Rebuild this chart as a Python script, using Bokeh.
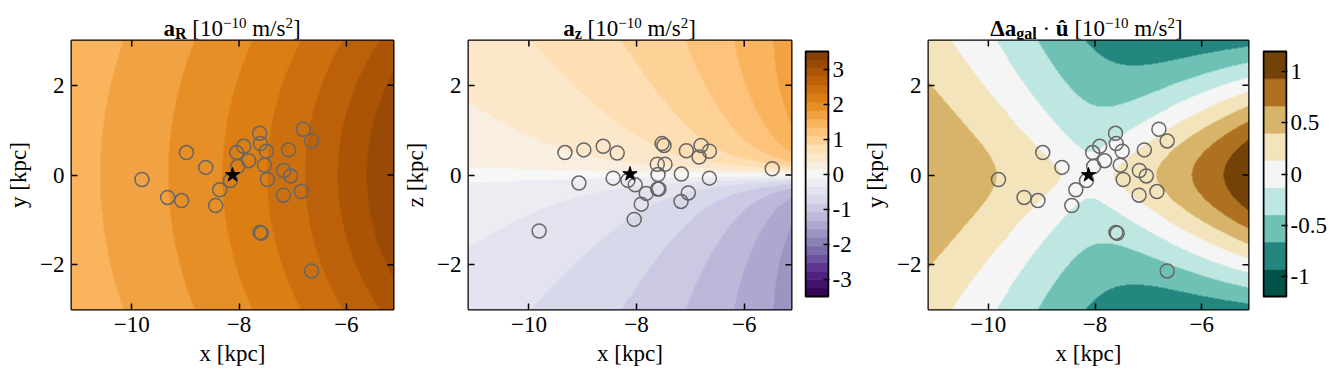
import numpy as np
from bokeh.plotting import figure
from bokeh.models import LinearColorMapper, FixedTicker, Range1d, Div
from bokeh.layouts import row, column
from bokeh.embed import file_html
from bokeh.resources import INLINE

# ---------------- values ----------------
# sources, Galactocentric coordinates [kpc] (the last one lies outside the y window)
src_x = [-9.81, -9.33, -9.07, -8.98, -8.62, -8.435, -8.36, -8.16, -8.025, -8.044, -7.913, -7.82,
         -7.615, -7.602, -7.527, -7.490, -7.472, -7.608, -7.584, -7.168, -7.174, -7.075, -7.038,
         -6.839, -6.802, -6.647, -6.647, -5.48]
src_y = [-0.10, -0.50, -0.57, 0.50, 0.17, -0.68, -0.33, -0.125, 0.19, 0.50, 0.64, 0.32,
         0.93, 0.70, 0.22, 0.53, -0.10, -1.28, -1.30, 0.10, -0.45, 0.56, -0.02,
         -0.37, 1.02, 0.76, -2.14, np.nan]
src_z = [-1.25, 0.50, -0.18, 0.56, 0.64, -0.07, 0.49, -0.12, -0.22, -0.99, -0.65, -0.41,
         0.24, 0.01, 0.70, 0.66, 0.24, -0.31, -0.31, 0.02, -0.59, 0.54, -0.40,
         0.40, 0.66, 0.53, -0.07, 0.14]
sun_x, sun_y, sun_z = -8.122, 0.0, 0.0208

x_window = [-11.122, -5.122]
y_window = [-3.0, 3.0]
x_ticks = [-10, -8, -6]
y_ticks = [-2, 0, 2]

levels_acc = np.linspace(-3.5, 3.5, 30)     # a_R and a_z colour levels
levels_diff = np.linspace(-1.2, 1.2, 10)    # Delta a . u colour levels
cbar_ticks_acc = [-3, -2, -1, 0, 1, 2, 3]
cbar_labels_acc = ["-3", "-2", "-1", "0", "1", "2", "3"]
cbar_ticks_diff = [-1, -0.5, 0, 0.5, 1]
cbar_labels_diff = ["-1", "-0.5", "0", "0.5", "1"]

# Galactic potential model (bulge + disc + halo), parameters tuned to the picture
G = 4.30091e-6                         # kpc (km/s)^2 / Msun
M_bulge, a_bulge = 0.5e10, 0.5
M_disk, a_disk, b_disk = 6.8e10, 3.0, 0.28
v_halo, r_core = 183.2, 6.04
UNIT = 1e6 / 3.0857e19 / 1e-10         # (km/s)^2/kpc -> 1e-10 m/s^2

PUOR = ['#7f3b08', '#b35806', '#e08214', '#fdb863', '#fee0b6', '#f7f7f7',
        '#d8daeb', '#b2abd2', '#8073ac', '#542788', '#2d004b']
BRBG = ['#543005', '#8c510a', '#bf812d', '#dfc27d', '#f6e8c3', '#f5f5f5',
        '#c7eae5', '#80cdc1', '#35978f', '#01665e', '#003c30']

SERIF = "Liberation Serif"
FS = "23px"


def hex2rgb(h):
    return np.array([int(h[i:i + 2], 16) for i in (1, 3, 5)], float)


def band_palette(anchors, n):
    """reversed colormap sampled at the band mid points (low -> high)."""
    rgb = np.array([hex2rgb(c) for c in anchors])
    out = []
    for k in range(n):
        t = 1.0 - (k + 0.5) / n
        pos = t * (len(anchors) - 1)
        i = min(int(np.floor(pos)), len(anchors) - 2)
        f = pos - i
        c = rgb[i] * (1 - f) + rgb[i + 1] * f
        out.append('#%02x%02x%02x' % tuple(int(round(v)) for v in c))
    return out


pal_acc = band_palette(PUOR, len(levels_acc) - 1)
pal_diff = band_palette(BRBG, len(levels_diff) - 1)


def accel(x, y, z):
    r2 = x * x + y * y + z * z
    r = np.sqrt(r2)
    fb = -G * M_bulge / (r * (r + a_bulge) ** 2)
    zeta = np.sqrt(z * z + b_disk ** 2)
    fd = -G * M_disk / (x * x + y * y + (a_disk + zeta) ** 2) ** 1.5
    fh = -v_halo ** 2 / (r2 + r_core ** 2)
    ax = (fb + fd + fh) * x
    ay = (fb + fd + fh) * y
    az = (fb + fh) * z + fd * z * (a_disk + zeta) / zeta
    return ax * UNIT, ay * UNIT, az * UNIT


NX, NY = 322, 269
gx = x_window[0] + (np.arange(NX) + 0.5) * (x_window[1] - x_window[0]) / NX
gy = y_window[0] + (np.arange(NY) + 0.5) * (y_window[1] - y_window[0]) / NY
GX, GY = np.meshgrid(gx, gy)
ZERO = np.zeros_like(GX)

ax1, ay1, _ = accel(GX, GY, ZERO)
RR = np.hypot(GX, GY)
field_aR = -(ax1 * GX + ay1 * GY) / RR

_, _, az2 = accel(GX, ZERO, GY)
field_az = -az2

sax, say, _ = accel(np.array(sun_x), np.array(sun_y), np.array(0.0))
dX, dY = GX - sun_x, GY - sun_y
dist = np.hypot(dX, dY)
field_du = ((ax1 - sax) * dX + (ay1 - say) * dY) / dist

# ---------------- drawing ----------------
TITLE_H = 39
FRAME_H = 269
B_TOP, B_BOT = 1, 68
MAIN_H = B_TOP + FRAME_H + B_BOT


def sub(t):
    return ('<span style="font-weight:bold;font-size:16px;vertical-align:-3px;'
            'line-height:0">%s</span>' % t)


def sup(t):
    return '<span style="font-size:15px;vertical-align:8px;line-height:0">%s</span>' % t


UNITS = " [10" + sup("\u221210") + " m/s" + sup("2") + "]"


def title_div(width, center, html):
    # a box of twice the distance to the panel centre, so that centred text sits over the panel
    inner = ('<div style="display:block;margin:0;padding:17px 0 0 0;width:%dpx;'
             'box-sizing:border-box;text-align:center;white-space:nowrap;'
             'font-family:\'%s\';font-size:23px;line-height:23px;color:#000000;">%s</div>'
             % (int(round(2 * center)), SERIF, html))
    return Div(text=inner, width=width, height=TITLE_H, margin=0)


def fmt_minus(t):
    return ("%g" % t).replace("-", "\u2212")


def style_axis(a, ticks):
    a.ticker = FixedTicker(ticks=ticks)
    a.major_tick_in = 6
    a.major_tick_out = 0
    a.major_tick_line_width = 1.5
    a.major_tick_line_color = "black"
    a.minor_tick_line_color = None
    a.axis_line_color = None
    a.major_label_overrides = {t: fmt_minus(t) for t in ticks}
    a.major_label_text_font = SERIF
    a.major_label_text_font_size = FS
    a.major_label_text_color = "black"
    a.major_label_standoff = 7
    a.axis_label_text_font = SERIF
    a.axis_label_text_font_size = FS
    a.axis_label_text_font_style = "normal"
    a.axis_label_text_color = "black"
    a.axis_label_standoff = 6


def make_panel(width, left, right, field, palette, levels, ylab, vy, sy):
    p = figure(width=width, height=MAIN_H, x_range=Range1d(*x_window), y_range=Range1d(*y_window),
               output_backend="svg", toolbar_location=None,
               min_border_left=left, min_border_right=right, min_border_top=B_TOP,
               min_border_bottom=B_BOT)
    mapper = LinearColorMapper(palette=palette, low=levels[0], high=levels[-1])
    p.image(image=[field.astype(np.float32)], x=x_window[0], y=y_window[0],
            dw=x_window[1] - x_window[0], dh=y_window[1] - y_window[0], color_mapper=mapper)
    p.scatter(np.array(src_x), np.array(vy), marker="circle", size=14, fill_color=None,
              line_color="#666666", line_width=1.5)
    p.scatter([sun_x], [sy], marker="star", size=15, fill_color="black", line_color="black")
    # inward ticks on the top and right frame edges (half of each dash is clipped by the frame)
    p.scatter(x_ticks, [y_window[1]] * len(x_ticks), marker="dash", angle=np.pi / 2, size=12,
              line_color="black", line_width=1.5)
    p.scatter([x_window[1]] * len(y_ticks), y_ticks, marker="dash", size=12,
              line_color="black", line_width=1.5)
    p.grid.visible = False
    p.xaxis.axis_label = "x [kpc]"
    p.yaxis.axis_label = ylab
    style_axis(p.xaxis[0], x_ticks)
    style_axis(p.yaxis[0], y_ticks)
    p.outline_line_color = "black"
    p.outline_line_width = 2
    p.outline_line_alpha = 1
    return p


def make_cbar(width, left, right, levels, palette, ticks, labels):
    # the bar is 245 px tall, 11 px below the frame top and 13 px above the frame bottom
    span = levels[-1] - levels[0]
    per_px = span / 245.0
    yr = Range1d(levels[0] - 13 * per_px, levels[-1] + 11 * per_px)
    xr = Range1d(-1 / 23.0, 1 + 1 / 23.0)
    p = figure(width=width, height=MAIN_H, x_range=xr, y_range=yr,
               output_backend="svg", toolbar_location=None, x_axis_location=None,
               y_axis_location="right",
               min_border_left=left, min_border_right=right, min_border_top=B_TOP,
               min_border_bottom=B_BOT)
    p.quad(left=0, right=1, bottom=levels[:-1], top=levels[1:], fill_color=palette,
           line_color=palette, line_width=0.6)
    p.quad(left=[0], right=[1], bottom=[levels[0]], top=[levels[-1]], fill_color=None,
           line_color="black", line_width=2)
    p.grid.visible = False
    a = p.yaxis[0]
    a.ticker = FixedTicker(ticks=ticks)
    a.major_label_overrides = dict(zip(ticks, labels))
    a.major_tick_in = 6
    a.major_tick_out = 0
    a.major_tick_line_width = 1.5
    a.major_tick_line_color = "black"
    a.minor_tick_line_color = None
    a.axis_line_color = None
    a.major_label_text_font = SERIF
    a.major_label_text_font_size = FS
    a.major_label_text_color = "black"
    a.major_label_standoff = 3
    p.outline_line_color = None
    return p


# page x-layout: panel frames at 71-393, 468-791, 925-1248; colour bars at 805-828, 1263-1286
f1 = make_panel(400, 71, 7, field_aR, pal_acc, levels_acc, "y [kpc]", src_y, sun_y)
f2 = make_panel(400, 68, 9, field_az, pal_acc, levels_acc, "z [kpc]", src_z, sun_z)
c2 = make_cbar(60, 4, 31, levels_acc, pal_acc, cbar_ticks_acc, cbar_labels_acc)
f3 = make_panel(395, 65, 7, field_du, pal_diff, levels_diff, "y [kpc]", src_y, sun_y)
c3 = make_cbar(81, 7, 49, levels_diff, pal_diff, cbar_ticks_diff, cbar_labels_diff)

h1 = title_div(400, 71 + 161, "<b>a</b>" + sub("R") + UNITS)
h2 = title_div(460, 68 + 161.5, "<b>a</b>" + sub("z") + UNITS)
h3 = title_div(476, 65 + 161.5, "<b>\u0394a</b>" + sub("gal") + " \u00b7 <b>\u00fb</b>" + UNITS)

layout = column(row(h1, h2, h3), row(f1, f2, c2, f3, c3))
open("out.html", "w").write(file_html(layout, INLINE, title="Galactic accelerations"))
